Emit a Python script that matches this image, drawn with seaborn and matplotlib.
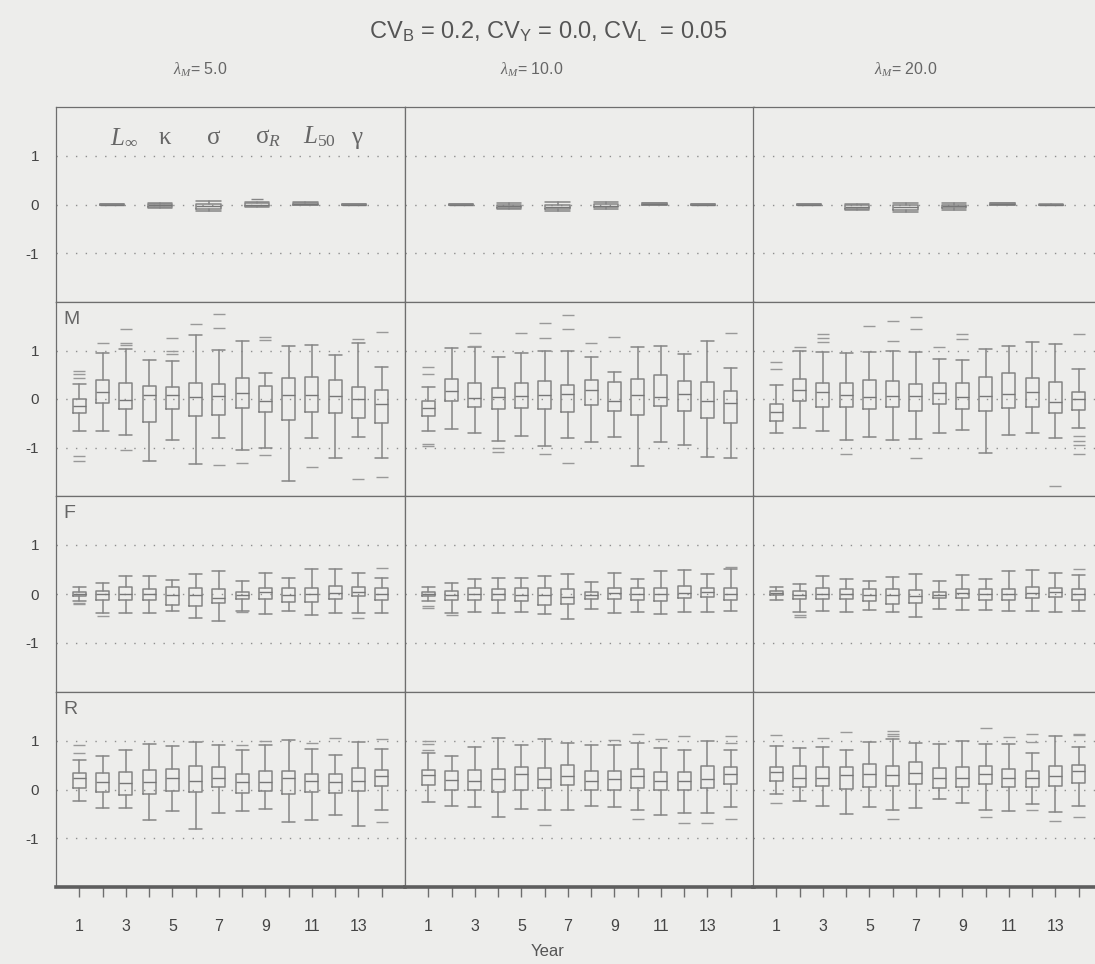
import numpy as np
import matplotlib
matplotlib.use("Agg")
import matplotlib.pyplot as plt
import seaborn as sns

# ---------------- data ----------------
years = list(range(1, 15))
year_ticks = [1, 3, 5, 7, 9, 11, 13]
lambda_labels = [r"$\lambda_M$= 5.0", r"$\lambda_M$= 10.0", r"$\lambda_M$= 20.0"]
row_names = ["", "M", "F", "R"]
param_labels = [r"$L_\infty$", r"$\mathrm{\kappa}$", r"$\mathrm{\sigma}$", r"$\mathrm{\sigma}_R$",
                r"$L_{50}$", r"$\mathrm{\gamma}$"]

# parameter row: [lo, q1, med, q3, hi] for each parameter, per panel
par_lo = [[-0.01, -0.08, -0.14, -0.06, -0.02, -0.02],
          [-0.01, -0.09, -0.13, -0.09, -0.02, -0.02],
          [-0.01, -0.12, -0.15, -0.11, -0.02, -0.02]]
par_q1 = [[-0.005, -0.05, -0.09, -0.04, -0.01, -0.01],
          [-0.005, -0.07, -0.09, -0.06, -0.01, -0.01],
          [-0.005, -0.09, -0.11, -0.08, -0.01, -0.01]]
par_med = [[0.0, -0.02, -0.04, -0.01, 0.02, 0.0],
           [0.0, -0.04, -0.05, -0.03, 0.01, -0.01],
           [0.0, -0.06, -0.06, -0.04, 0.01, -0.01]]
par_q3 = [[0.005, 0.02, 0.02, 0.03, 0.04, 0.01],
          [0.005, 0.0, 0.0, 0.01, 0.03, 0.01],
          [0.005, -0.02, -0.01, -0.01, 0.03, 0.0]]
par_hi = [[0.01, 0.04, 0.07, 0.06, 0.05, 0.02],
          [0.01, 0.03, 0.05, 0.05, 0.04, 0.02],
          [0.01, 0.01, 0.04, 0.04, 0.04, 0.01]]
par_out = [[[], [], [], [0.12], [], []],
           [[], [], [], [], [], []],
           [[], [], [], [], [], []]]

# M row
M_lo = [[-0.65, -0.65, -0.75, -1.28, -0.85, -1.33, -0.80, -1.05, -1.01, -1.69, -0.80, -1.22, -0.78, -1.21],
        [-0.67, -0.62, -0.70, -0.87, -0.77, -0.97, -0.80, -0.89, -0.78, -1.38, -0.88, -0.95, -1.19, -1.22],
        [-0.71, -0.60, -0.67, -0.85, -0.78, -0.84, -0.82, -0.71, -0.63, -1.11, -0.75, -0.71, -0.81, -0.59]]
M_q1 = [[-0.28, -0.09, -0.21, -0.48, -0.21, -0.36, -0.33, -0.19, -0.26, -0.43, -0.27, -0.29, -0.39, -0.50],
        [-0.36, -0.05, -0.17, -0.21, -0.19, -0.20, -0.27, -0.12, -0.24, -0.34, -0.14, -0.24, -0.39, -0.50],
        [-0.45, -0.04, -0.17, -0.17, -0.21, -0.16, -0.25, -0.10, -0.21, -0.25, -0.18, -0.16, -0.29, -0.22]]
M_med = [[-0.14, 0.15, -0.02, 0.08, 0.08, 0.05, 0.07, 0.13, -0.04, 0.08, 0.08, 0.07, 0.00, -0.10],
         [-0.18, 0.17, 0.03, 0.04, 0.07, 0.08, 0.10, 0.18, -0.04, 0.08, 0.04, 0.11, -0.05, -0.09],
         [-0.26, 0.19, 0.15, 0.09, 0.05, 0.07, 0.06, 0.13, 0.05, 0.07, 0.10, 0.15, -0.07, 0.00]]
M_q3 = [[0.01, 0.39, 0.34, 0.27, 0.24, 0.33, 0.31, 0.44, 0.27, 0.44, 0.46, 0.39, 0.24, 0.18],
        [-0.05, 0.41, 0.34, 0.23, 0.34, 0.37, 0.29, 0.39, 0.35, 0.41, 0.50, 0.37, 0.35, 0.16],
        [-0.11, 0.41, 0.32, 0.32, 0.40, 0.38, 0.30, 0.34, 0.33, 0.45, 0.54, 0.44, 0.35, 0.14]]
M_hi = [[0.31, 0.95, 1.03, 0.81, 0.78, 1.32, 1.01, 1.20, 0.54, 1.10, 1.12, 0.91, 1.15, 0.65],
        [0.24, 1.05, 1.07, 0.86, 0.95, 0.98, 0.98, 0.87, 0.56, 1.07, 1.10, 0.93, 1.19, 0.63],
        [0.29, 1.00, 0.97, 0.95, 0.97, 0.98, 0.97, 0.82, 0.81, 1.03, 1.09, 1.17, 1.14, 0.61]]
M_out = [[[0.44, 0.51, 0.58, -1.18, -1.28], [1.16], [1.12, 1.15, 1.44, -1.06], [], [0.93, 1.0, 1.26],
          [1.54], [1.46, 1.76, -1.37], [-1.31], [1.22, 1.28, -1.16], [], [-1.40], [], [1.24, -1.65], [1.39, -1.60]],
         [[0.51, 0.67, -0.93, -0.96], [], [1.10, 1.36], [-1.0, -1.1], [1.37], [1.26, 1.56, -1.14],
          [1.44, 1.73, -1.31], [1.15], [1.27], [], [], [], [], [1.36]],
         [[0.61, 0.77], [1.07], [1.17, 1.26, 1.34], [-1.13], [1.51], [1.19, 1.60], [1.45, 1.70, -1.22],
          [1.08], [1.24, 1.35], [], [], [], [-1.80], [1.34, -0.76, -0.87, -0.95, -1.13]]]

# F row
F_lo = [[-0.14, -0.39, -0.39, -0.38, -0.34, -0.48, -0.56, -0.35, -0.40, -0.34, -0.42, -0.38, -0.38, -0.39],
        [-0.15, -0.38, -0.36, -0.38, -0.36, -0.40, -0.52, -0.30, -0.38, -0.36, -0.40, -0.36, -0.36, -0.34],
        [-0.12, -0.36, -0.35, -0.36, -0.32, -0.36, -0.46, -0.30, -0.33, -0.32, -0.35, -0.34, -0.36, -0.34]]
F_q1 = [[-0.05, -0.12, -0.12, -0.12, -0.22, -0.24, -0.18, -0.10, -0.10, -0.17, -0.17, -0.10, -0.05, -0.13],
        [-0.05, -0.12, -0.12, -0.12, -0.15, -0.22, -0.20, -0.10, -0.10, -0.12, -0.15, -0.08, -0.06, -0.12],
        [-0.03, -0.10, -0.10, -0.10, -0.14, -0.20, -0.18, -0.08, -0.08, -0.12, -0.12, -0.08, -0.06, -0.12]]
F_med = [[0.0, -0.01, 0.0, 0.0, -0.03, -0.02, -0.08, -0.02, 0.04, -0.02, 0.0, 0.02, 0.05, 0.0],
         [0.0, -0.02, 0.0, 0.0, -0.02, -0.03, -0.06, -0.02, 0.02, 0.0, 0.0, 0.03, 0.04, 0.0],
         [0.02, -0.03, 0.0, 0.0, -0.02, -0.02, -0.04, -0.02, 0.02, 0.0, 0.0, 0.02, 0.04, 0.0]]
F_q3 = [[0.05, 0.07, 0.14, 0.10, 0.14, 0.12, 0.10, 0.05, 0.12, 0.12, 0.12, 0.17, 0.15, 0.12],
        [0.05, 0.07, 0.12, 0.10, 0.12, 0.12, 0.10, 0.05, 0.12, 0.12, 0.12, 0.17, 0.13, 0.12],
        [0.06, 0.06, 0.12, 0.10, 0.10, 0.10, 0.08, 0.05, 0.10, 0.10, 0.10, 0.15, 0.13, 0.10]]
F_hi = [[0.14, 0.22, 0.36, 0.36, 0.29, 0.41, 0.47, 0.27, 0.43, 0.32, 0.51, 0.51, 0.42, 0.33],
        [0.15, 0.22, 0.30, 0.33, 0.33, 0.36, 0.40, 0.25, 0.43, 0.30, 0.47, 0.50, 0.40, 0.52],
        [0.15, 0.20, 0.36, 0.30, 0.27, 0.34, 0.40, 0.26, 0.38, 0.30, 0.46, 0.48, 0.42, 0.38]]
F_out = [[[-0.18, -0.21], [-0.45], [], [], [], [], [], [-0.36], [], [], [], [], [-0.48], [0.54]],
         [[-0.25, -0.28], [-0.42], [], [], [], [], [], [], [], [], [], [], [], [0.56]],
         [[], [-0.42, -0.47], [], [], [], [], [], [], [], [], [], [], [], [0.52]]]

# R row
R_lo = [[-0.24, -0.37, -0.37, -0.63, -0.44, -0.81, -0.48, -0.44, -0.41, -0.66, -0.62, -0.53, -0.75, -0.42],
        [-0.25, -0.33, -0.35, -0.57, -0.39, -0.43, -0.42, -0.33, -0.35, -0.43, -0.53, -0.49, -0.48, -0.36],
        [-0.09, -0.24, -0.33, -0.50, -0.36, -0.43, -0.37, -0.20, -0.27, -0.42, -0.44, -0.29, -0.46, -0.34]]
R_q1 = [[0.03, -0.05, -0.11, -0.09, -0.04, -0.05, 0.06, -0.07, -0.03, -0.10, -0.05, -0.08, -0.04, 0.07],
        [0.10, 0.0, 0.0, -0.05, -0.01, 0.03, 0.09, -0.01, -0.01, 0.03, -0.01, -0.02, 0.03, 0.12],
        [0.18, 0.05, 0.08, 0.02, 0.06, 0.07, 0.12, 0.03, 0.05, 0.12, 0.06, 0.06, 0.08, 0.14]]
R_med = [[0.24, 0.16, 0.13, 0.16, 0.23, 0.18, 0.23, 0.15, 0.16, 0.23, 0.17, 0.15, 0.17, 0.27],
         [0.29, 0.20, 0.18, 0.22, 0.31, 0.22, 0.27, 0.18, 0.22, 0.27, 0.17, 0.17, 0.22, 0.32],
         [0.36, 0.23, 0.23, 0.29, 0.32, 0.29, 0.34, 0.23, 0.23, 0.31, 0.24, 0.23, 0.27, 0.37]]
R_q3 = [[0.34, 0.34, 0.36, 0.39, 0.42, 0.49, 0.46, 0.31, 0.37, 0.38, 0.31, 0.31, 0.44, 0.40],
        [0.39, 0.38, 0.41, 0.42, 0.46, 0.44, 0.51, 0.38, 0.38, 0.42, 0.36, 0.35, 0.48, 0.46],
        [0.47, 0.49, 0.46, 0.46, 0.53, 0.49, 0.56, 0.44, 0.47, 0.48, 0.42, 0.38, 0.49, 0.51]]
R_hi = [[0.61, 0.68, 0.82, 0.94, 0.89, 0.98, 0.92, 0.81, 0.91, 1.02, 0.83, 0.71, 0.97, 0.83],
        [0.75, 0.68, 0.87, 1.05, 0.92, 1.04, 0.95, 0.92, 0.91, 0.96, 0.85, 0.81, 1.00, 0.82],
        [0.89, 0.85, 0.87, 0.82, 0.97, 1.03, 0.96, 0.94, 1.00, 0.94, 0.94, 0.74, 1.09, 0.87]]
R_out = [[[0.75, 0.91], [], [], [], [], [], [], [0.92], [1.0], [], [0.96], [1.06], [], [1.04, -0.67]],
         [[0.81, 0.93, 1.0], [], [], [], [], [-0.72], [], [], [1.02], [1.14, -0.60], [1.03], [1.09, -0.68],
          [-0.69], [0.96, 1.09, -0.60]],
         [[1.12, -0.28], [], [1.05], [1.18], [], [1.09, 1.14, 1.19, -0.60], [], [], [], [1.27, -0.57], [1.07],
          [0.97, 1.13, -0.42], [-0.64], [1.11, 1.14, -0.57]]]

# ---------------- style ----------------
sns.set_theme(style="white")
plt.rcParams["font.family"] = ["Liberation Sans", "DejaVu Sans"]
plt.rcParams["mathtext.fontset"] = "custom"
plt.rcParams["mathtext.rm"] = "Liberation Serif"
plt.rcParams["mathtext.it"] = "Liberation Serif:italic"
plt.rcParams["mathtext.bf"] = "Liberation Serif:bold"
plt.rcParams["mathtext.sf"] = "Liberation Sans"
plt.rcParams["axes.unicode_minus"] = False

BG = "#ededeb"
BOX = "#858585"
EDGE = "#6e6e6e"

W, H = 1095, 964
fig = plt.figure(figsize=(W / 100, H / 100), dpi=100, facecolor=BG)

col_left = [56, 405, 753]
col_w = 349
row_top = [107, 302, 496, 692]
row_h = [195, 194, 196, 195]
col_title_x = [200, 532, 906]


def stats_list(lo, q1, med, q3, hi, out):
    return [dict(whislo=a, q1=b, med=c, q3=d, whishi=e, fliers=f, label="")
            for a, b, c, d, e, f in zip(lo, q1, med, q3, hi, out)]


rows = [None,
        (M_lo, M_q1, M_med, M_q3, M_hi, M_out),
        (F_lo, F_q1, F_med, F_q3, F_hi, F_out),
        (R_lo, R_q1, R_med, R_q3, R_hi, R_out)]

param_pos = [2.4 + 2.08 * i for i in range(len(param_labels))]

line_kw = dict(color=BOX, linewidth=1.1)
for r in range(4):
    for c in range(3):
        l = col_left[c] / W
        b = 1 - (row_top[r] + row_h[r]) / H
        ax = fig.add_axes([l, b, col_w / W, row_h[r] / H])
        ax.set_facecolor(BG)
        ax.set_xlim(0, 15)
        ax.set_ylim(-2, 2)
        for yv in (-1, 0, 1):
            ax.axhline(yv, color="#8f8f8f", linewidth=1.0, linestyle=(0, (1, 6)), zorder=0)
        if r == 0:
            st = stats_list(par_lo[c], par_q1[c], par_med[c], par_q3[c], par_hi[c], par_out[c])
            ax.bxp(st, positions=param_pos, widths=1.05, capwidths=1.05, manage_ticks=False,
                   boxprops=line_kw, whiskerprops=line_kw, capprops=line_kw,
                   medianprops=dict(color="#777777", linewidth=1.0),
                   flierprops=dict(marker="_", markeredgecolor=BOX, markersize=9))
            if c == 0:
                for p, lab in zip(param_pos, param_labels):
                    ax.text(p - 0.1, 1.25, lab, ha="left", va="baseline", fontsize=18,
                            color="#666666")
        else:
            lo, q1, med, q3, hi, out = rows[r]
            st = stats_list(lo[c], q1[c], med[c], q3[c], hi[c], out[c])
            ax.bxp(st, positions=years, widths=0.56, capwidths=0.56, manage_ticks=False,
                   boxprops=line_kw, whiskerprops=line_kw, capprops=line_kw,
                   medianprops=dict(color="#777777", linewidth=1.0),
                   flierprops=dict(marker="_", markeredgecolor="#999999", markersize=8,
                                   markeredgewidth=1.0))
            if c == 0:
                ax.text(0.02, 0.955, row_names[r], transform=ax.transAxes, ha="left", va="top",
                        fontsize=14, color="#666666")
        for s in ax.spines.values():
            s.set_color(EDGE)
            s.set_linewidth(0.9)
        if c == 0:
            ax.set_yticks([-1, 0, 1])
            ax.set_yticklabels(["-1", "0", "1"], fontsize=11, color="#444444")
            ax.tick_params(axis="y", length=0, pad=12)
        else:
            ax.set_yticks([])
        if r == 3:
            ax.set_xticks(years)
            ax.set_xticklabels([str(y) if y in year_ticks else "" for y in years],
                               fontsize=11.5, color="#444444")
            ax.tick_params(axis="x", direction="out", length=7, width=1.0, color=EDGE, pad=16,
                           bottom=True)
            ax.spines["bottom"].set_linewidth(2.6)
            ax.spines["bottom"].set_color("#5e5e5e")
        else:
            ax.set_xticks([])

for c in range(3):
    fig.text(col_title_x[c] / W, 1 - 70 / H, lambda_labels[c], ha="center", va="center",
             fontsize=11.5, color="#666666")

fig.text(548 / W, 1 - 32 / H,
         r"CV$_\mathsf{B}$ = 0.2, CV$_\mathsf{Y}$ = 0.0, CV$_\mathsf{L}$  = 0.05",
         ha="center", va="center", fontsize=17, color="#555555")
fig.text(548 / W, 1 - 952 / H, "Year", ha="center", va="center", fontsize=12, color="#555555")

fig.savefig("out.png", dpi=100, facecolor=BG)
